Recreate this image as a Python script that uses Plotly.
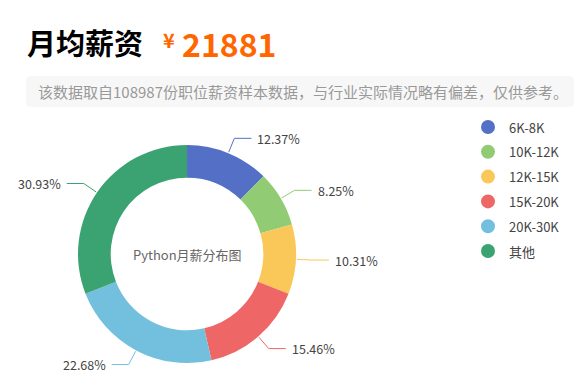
import math
import plotly.graph_objects as go

# ---- data ----
categories = ["6K-8K", "10K-12K", "12K-15K", "15K-20K", "20K-30K", "其他"]
shares = [12.37, 8.25, 10.31, 15.46, 22.68, 30.93]
colors = ["#5470c6", "#91cc75", "#fac858", "#ee6666", "#73c0de", "#3ba272"]
title_text = "月均薪资"
avg_salary = "21881"
note_text = "该数据取自108987份职位薪资样本数据，与行业实际情况略有偏差，仅供参考。"
center_text = "Python月薪分布图"

W, H = 587, 392
OFF = 8  # page body margin of the browser
FONT = "Microsoft YaHei, Noto Sans CJK SC, sans-serif"


def X(px):
    return (px - OFF) / W


def Y(py):
    return 1 - (py - OFF) / H


# pie geometry (pixels)
cx, cy, R = 187, 254, 109
hole = 0.70

fig = go.Figure()
fig.add_trace(go.Pie(
    labels=categories, values=shares, sort=False, direction="clockwise",
    rotation=0, hole=hole, marker=dict(colors=colors, line=dict(width=0)),
    textinfo="none", hoverinfo="label+percent", showlegend=False,
    domain=dict(x=[X(cx - R), X(cx + R)], y=[Y(cy + R), Y(cy - R)]),
))

shapes = []
annotations = []

# leader lines + labels computed from data
total = sum(shares)
cum = 0.0
for v, c in zip(shares, colors):
    mid = (cum + v / 2) / total * 2 * math.pi
    cum += v
    sx, sy = math.sin(mid), -math.cos(mid)
    p0 = (cx + (R + 1) * sx, cy + (R + 1) * sy)
    p1 = (cx + (R + 16) * sx, cy + (R + 16) * sy)
    sgn = 1 if sx >= 0 else -1
    p2 = (p1[0] + sgn * 17, p1[1])
    for a, b in ((p0, p1), (p1, p2)):
        shapes.append(dict(type="line", xref="paper", yref="paper",
                           x0=X(a[0]), y0=Y(a[1]), x1=X(b[0]), y1=Y(b[1]),
                           line=dict(color=c, width=1)))
    annotations.append(dict(
        x=X(p2[0] + sgn * 4), y=Y(p2[1]), xref="paper", yref="paper",
        text=f"{v:.2f}%", showarrow=False,
        xanchor="left" if sgn > 0 else "right", yanchor="middle",
        font=dict(family=FONT, size=12.5, color="#444")))

# center text
annotations.append(dict(x=X(cx), y=Y(cy), xref="paper", yref="paper",
                        text=center_text, showarrow=False,
                        xanchor="center", yanchor="middle",
                        font=dict(family=FONT, size=13, color="#666")))

# legend (manual, circles)
for i, (name, c) in enumerate(zip(categories, colors)):
    ly = 127 + 24.8 * i
    shapes.append(dict(type="circle", xref="paper", yref="paper",
                       x0=X(481), x1=X(495), y0=Y(ly - 7), y1=Y(ly + 7),
                       fillcolor=c, line=dict(width=0)))
    annotations.append(dict(x=X(507), y=Y(ly), xref="paper", yref="paper",
                            text=name, showarrow=False, xanchor="left",
                            yanchor="middle",
                            font=dict(family=FONT, size=13, color="#444")))

# title row
annotations.append(dict(x=X(25), y=Y(42), xref="paper", yref="paper",
                        text=f"<b>{title_text}</b>", showarrow=False,
                        xanchor="left", yanchor="middle",
                        font=dict(family=FONT, size=29, color="#000")))
annotations.append(dict(x=X(161), y=Y(40), xref="paper", yref="paper",
                        text="<b>¥</b>", showarrow=False,
                        xanchor="left", yanchor="middle",
                        font=dict(family=FONT, size=20, color="#ff6600")))
annotations.append(dict(x=X(180), y=Y(43), xref="paper", yref="paper",
                        text=f"<b>{avg_salary}</b>", showarrow=False,
                        xanchor="left", yanchor="middle",
                        font=dict(family=FONT, size=32, color="#ff6600")))

# note box with rounded corners
bx0, bx1, by0, by1, r = 26, 574, 76, 107, 5
path = (f"M {X(bx0 + r)},{Y(by0)} L {X(bx1 - r)},{Y(by0)} "
        f"Q {X(bx1)},{Y(by0)} {X(bx1)},{Y(by0 + r)} "
        f"L {X(bx1)},{Y(by1 - r)} Q {X(bx1)},{Y(by1)} {X(bx1 - r)},{Y(by1)} "
        f"L {X(bx0 + r)},{Y(by1)} Q {X(bx0)},{Y(by1)} {X(bx0)},{Y(by1 - r)} "
        f"L {X(bx0)},{Y(by0 + r)} Q {X(bx0)},{Y(by0)} {X(bx0 + r)},{Y(by0)} Z")
shapes.insert(0, dict(type="path", xref="paper", yref="paper", path=path,
                      fillcolor="#f7f7f7", line=dict(width=0), layer="below"))
annotations.append(dict(x=X(36), y=Y(91.5), xref="paper", yref="paper",
                        text=note_text, showarrow=False,
                        xanchor="left", yanchor="middle",
                        font=dict(family=FONT, size=15, color="#999")))

fig.update_layout(
    width=W, height=H, margin=dict(l=0, r=0, t=0, b=0),
    paper_bgcolor="white", plot_bgcolor="white",
    shapes=shapes, annotations=annotations, showlegend=False,
)

fig.write_html("out.html")
